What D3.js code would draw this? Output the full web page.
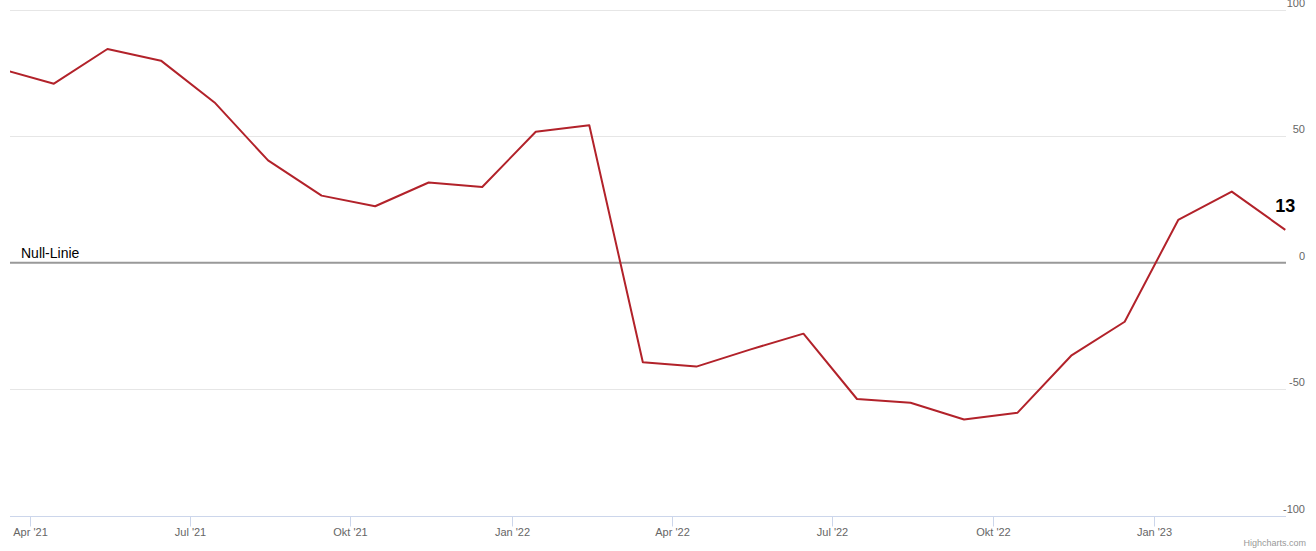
<!DOCTYPE html>
<html>
<head>
<meta charset="utf-8">
<script src="https://cdn.jsdelivr.net/npm/d3@7"></script>
<style>
  html, body { margin: 0; padding: 0; background: #fff; }
  svg { display: block; font-family: "Liberation Sans", Arial, Helvetica, sans-serif; }
</style>
</head>
<body>
<svg id="chart" width="1316" height="551"></svg>
<script>
// ---- data ----
const dates = ["2021-03-15","2021-04-15","2021-05-15","2021-06-15","2021-07-15","2021-08-15",
  "2021-09-15","2021-10-15","2021-11-15","2021-12-15","2022-01-15","2022-02-15","2022-03-15",
  "2022-04-15","2022-05-15","2022-06-15","2022-07-15","2022-08-15","2022-09-15","2022-10-15",
  "2022-11-15","2022-12-15","2023-01-15","2023-02-15","2023-03-15"];
const values = [76.6, 70.7, 84.4, 79.8, 63.3, 40.4, 26.5, 22.3, 31.7, 29.9, 51.7, 54.3, -39.3,
  -41.0, -34.3, -28.0, -53.8, -55.3, -61.9, -59.2, -36.7, -23.3, 16.9, 28.1, 13.0];
const tickDates = ["2021-04-01","2021-07-01","2021-10-01","2022-01-01","2022-04-01","2022-07-01","2022-10-01","2023-01-01"];
const tickLabels = ["Apr '21","Jul '21","Okt '21","Jan '22","Apr '22","Jul '22","Okt '22","Jan '23"];
const yTicks = [-100, -50, 0, 50, 100];
const zeroLineLabel = "Null-Linie";
const credits = "Highcharts.com";

// ---- layout ----
const plot = { left: 10, right: 1286, top: 9.5, bottom: 516 };
const svg = d3.select("#chart");
const parse = d3.utcParse("%Y-%m-%d");
const t = dates.map(parse);
const data = values.map((v, i) => ({ i, v, d: t[i] }));

// ordinal x-axis: equal spacing per data point (Highstock style)
const x = d3.scaleLinear().domain([0.18, values.length - 1]).range([plot.left, plot.right - 0.7]);
const y = d3.scaleLinear().domain([-100, 100]).range([plot.bottom, plot.top]);

function dateToIndex(d) {
  const ms = +d;
  for (let k = 0; k < t.length - 1; k++) {
    if (ms >= +t[k] && ms <= +t[k + 1]) return k + (ms - t[k]) / (t[k + 1] - t[k]);
  }
  return ms < +t[0] ? 0 : t.length - 1;
}

// gridlines
svg.append("g").selectAll("line").data(yTicks.filter(v => v !== 0 && v !== -100)).join("line")
  .attr("x1", plot.left).attr("x2", plot.right)
  .attr("y1", d => Math.round(y(d)) + 0.5).attr("y2", d => Math.round(y(d)) + 0.5)
  .attr("stroke", "#e6e6e6").attr("stroke-width", 1);

// x axis line + ticks
const axisY = Math.round(y(-100)) + 0.5;
svg.append("line").attr("x1", plot.left).attr("x2", plot.right)
  .attr("y1", axisY).attr("y2", axisY).attr("stroke", "#ccd6eb").attr("stroke-width", 1);
const xt = svg.append("g");
tickDates.forEach((s, k) => {
  const px = Math.round(x(dateToIndex(parse(s)))) + 0.5;
  xt.append("line").attr("x1", px).attr("x2", px).attr("y1", axisY).attr("y2", axisY + 10)
    .attr("stroke", "#ccd6eb").attr("stroke-width", 1);
  xt.append("text").attr("x", px).attr("y", 535.5).attr("text-anchor", "middle")
    .attr("font-size", 11).attr("fill", "#666").text(tickLabels[k]);
});

// y labels on right
svg.append("g").selectAll("text").data(yTicks).join("text")
  .attr("x", 1305).attr("y", d => y(d) - 3).attr("text-anchor", "end")
  .attr("font-size", 11).attr("fill", "#666").text(d => d);

// zero plot line
svg.append("line").attr("x1", plot.left).attr("x2", plot.right)
  .attr("y1", y(0)).attr("y2", y(0)).attr("stroke", "#999").attr("stroke-width", 2);
svg.append("text").attr("x", 21).attr("y", y(0) - 5).attr("font-size", 14)
  .attr("fill", "#000").text(zeroLineLabel);

// clip + line
svg.append("clipPath").attr("id", "clip").append("rect")
  .attr("x", plot.left).attr("y", 0).attr("width", plot.right - plot.left + 2).attr("height", 551);
const line = d3.line().x(d => x(d.i)).y(d => y(d.v));
svg.append("path").datum(data).attr("clip-path", "url(#clip)")
  .attr("d", line).attr("fill", "none").attr("stroke", "#b2222a")
  .attr("stroke-width", 2).attr("stroke-linejoin", "round");

// last value label
const last = data[data.length - 1];
svg.append("text").attr("x", x(last.i)).attr("y", y(last.v) - 18)
  .attr("text-anchor", "middle").attr("font-size", 18).attr("font-weight", "bold")
  .attr("fill", "#000").text(d3.format(".0f")(last.v));

// credits
svg.append("text").attr("x", 1306).attr("y", 546).attr("text-anchor", "end")
  .attr("font-size", 9).attr("fill", "#999").text(credits);
</script>
</body>
</html>
